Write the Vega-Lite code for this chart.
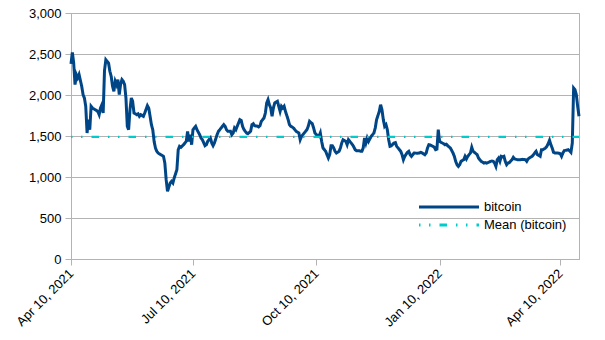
{
  "$schema": "https://vega.github.io/schema/vega-lite/v6.json",
  "width": 508,
  "height": 246,
  "autosize": "none",
  "padding": {"left": 71, "top": 13, "right": 26, "bottom": 81},
  "background": "white",
  "config": {
    "view": {"stroke": "#b3b3b3", "strokeWidth": 1},
    "font": "Liberation Sans"
  },
  "datasets": {
    "btc": [
      {"date":"2021-04-10","value":2380},{"date":"2021-04-11","value":2520},{"date":"2021-04-12","value":2390},{"date":"2021-04-13","value":2126},{"date":"2021-04-14","value":2248},{"date":"2021-04-15","value":2210},{"date":"2021-04-16","value":2250},{"date":"2021-04-18","value":2106},{"date":"2021-04-19","value":2004},{"date":"2021-04-20","value":1963},{"date":"2021-04-21","value":1862},{"date":"2021-04-22","value":1536},{"date":"2021-04-23","value":1700},{"date":"2021-04-24","value":1577},{"date":"2021-04-25","value":1862},{"date":"2021-04-26","value":1841},{"date":"2021-04-28","value":1821},{"date":"2021-04-30","value":1800},
      {"date":"2021-05-01","value":1760},{"date":"2021-05-02","value":1841},{"date":"2021-05-03","value":1880},{"date":"2021-05-04","value":1780},{"date":"2021-05-05","value":2300},{"date":"2021-05-06","value":2430},{"date":"2021-05-08","value":2390},{"date":"2021-05-09","value":2289},{"date":"2021-05-10","value":2228},{"date":"2021-05-11","value":2106},{"date":"2021-05-12","value":2045},{"date":"2021-05-13","value":2167},{"date":"2021-05-14","value":2126},{"date":"2021-05-15","value":2187},{"date":"2021-05-16","value":2004},{"date":"2021-05-17","value":2130},{"date":"2021-05-18","value":2187},{"date":"2021-05-19","value":2167},{"date":"2021-05-20","value":2126},{"date":"2021-05-21","value":1963},{"date":"2021-05-22","value":1618},{"date":"2021-05-23","value":1577},{"date":"2021-05-24","value":1821},{"date":"2021-05-25","value":1963},{"date":"2021-05-26","value":1923},{"date":"2021-05-27","value":1780},{"date":"2021-05-29","value":1760},{"date":"2021-05-30","value":1770},{"date":"2021-05-31","value":1740},
      {"date":"2021-06-01","value":1760},{"date":"2021-06-03","value":1740},{"date":"2021-06-04","value":1780},{"date":"2021-06-06","value":1870},{"date":"2021-06-07","value":1840},{"date":"2021-06-08","value":1740},{"date":"2021-06-09","value":1638},{"date":"2021-06-10","value":1577},{"date":"2021-06-11","value":1435},{"date":"2021-06-12","value":1354},{"date":"2021-06-13","value":1313},{"date":"2021-06-14","value":1293},{"date":"2021-06-16","value":1272},{"date":"2021-06-18","value":1252},{"date":"2021-06-19","value":1171},{"date":"2021-06-20","value":967},{"date":"2021-06-21","value":825},{"date":"2021-06-23","value":927},{"date":"2021-06-24","value":947},{"date":"2021-06-25","value":927},{"date":"2021-06-26","value":988},{"date":"2021-06-28","value":1089},{"date":"2021-06-29","value":1333},{"date":"2021-06-30","value":1374},
      {"date":"2021-07-01","value":1362},{"date":"2021-07-03","value":1394},{"date":"2021-07-04","value":1415},{"date":"2021-07-05","value":1435},{"date":"2021-07-06","value":1557},{"date":"2021-07-07","value":1435},{"date":"2021-07-08","value":1516},{"date":"2021-07-09","value":1394},{"date":"2021-07-10","value":1577},{"date":"2021-07-11","value":1598},{"date":"2021-07-12","value":1618},{"date":"2021-07-13","value":1577},{"date":"2021-07-15","value":1516},{"date":"2021-07-16","value":1476},{"date":"2021-07-17","value":1455},{"date":"2021-07-19","value":1382},{"date":"2021-07-20","value":1394},{"date":"2021-07-21","value":1435},{"date":"2021-07-23","value":1476},{"date":"2021-07-24","value":1415},{"date":"2021-07-25","value":1382},{"date":"2021-07-26","value":1415},{"date":"2021-07-28","value":1516},{"date":"2021-07-29","value":1557},{"date":"2021-07-30","value":1577},{"date":"2021-07-31","value":1598},
      {"date":"2021-08-02","value":1638},{"date":"2021-08-03","value":1618},{"date":"2021-08-04","value":1577},{"date":"2021-08-05","value":1557},{"date":"2021-08-07","value":1557},{"date":"2021-08-08","value":1516},{"date":"2021-08-09","value":1537},{"date":"2021-08-10","value":1598},{"date":"2021-08-11","value":1577},{"date":"2021-08-13","value":1659},{"date":"2021-08-14","value":1700},{"date":"2021-08-15","value":1690},{"date":"2021-08-16","value":1618},{"date":"2021-08-17","value":1580},{"date":"2021-08-18","value":1557},{"date":"2021-08-19","value":1537},{"date":"2021-08-20","value":1528},{"date":"2021-08-22","value":1557},{"date":"2021-08-23","value":1638},{"date":"2021-08-24","value":1650},{"date":"2021-08-25","value":1626},{"date":"2021-08-27","value":1620},{"date":"2021-08-28","value":1610},{"date":"2021-08-29","value":1626},{"date":"2021-08-30","value":1679},
      {"date":"2021-09-01","value":1720},{"date":"2021-09-02","value":1780},{"date":"2021-09-03","value":1903},{"date":"2021-09-04","value":1943},{"date":"2021-09-05","value":1882},{"date":"2021-09-06","value":1841},{"date":"2021-09-07","value":1740},{"date":"2021-09-08","value":1841},{"date":"2021-09-09","value":1903},{"date":"2021-09-11","value":1923},{"date":"2021-09-12","value":1862},{"date":"2021-09-13","value":1800},{"date":"2021-09-14","value":1862},{"date":"2021-09-15","value":1841},{"date":"2021-09-16","value":1862},{"date":"2021-09-17","value":1800},{"date":"2021-09-19","value":1700},{"date":"2021-09-20","value":1638},{"date":"2021-09-21","value":1618},{"date":"2021-09-22","value":1610},{"date":"2021-09-23","value":1598},{"date":"2021-09-24","value":1577},{"date":"2021-09-25","value":1557},{"date":"2021-09-27","value":1537},{"date":"2021-09-28","value":1455},{"date":"2021-09-29","value":1496},{"date":"2021-09-30","value":1516},
      {"date":"2021-10-02","value":1557},{"date":"2021-10-03","value":1577},{"date":"2021-10-04","value":1618},{"date":"2021-10-05","value":1679},{"date":"2021-10-07","value":1650},{"date":"2021-10-08","value":1598},{"date":"2021-10-09","value":1537},{"date":"2021-10-10","value":1516},{"date":"2021-10-12","value":1496},{"date":"2021-10-13","value":1537},{"date":"2021-10-14","value":1435},{"date":"2021-10-15","value":1354},{"date":"2021-10-17","value":1313},{"date":"2021-10-18","value":1272},{"date":"2021-10-19","value":1232},{"date":"2021-10-20","value":1272},{"date":"2021-10-21","value":1382},{"date":"2021-10-22","value":1382},{"date":"2021-10-23","value":1354},{"date":"2021-10-24","value":1313},{"date":"2021-10-25","value":1293},{"date":"2021-10-27","value":1313},{"date":"2021-10-28","value":1354},{"date":"2021-10-29","value":1415},{"date":"2021-10-30","value":1455},
      {"date":"2021-11-01","value":1435},{"date":"2021-11-02","value":1394},{"date":"2021-11-03","value":1455},{"date":"2021-11-04","value":1435},{"date":"2021-11-06","value":1394},{"date":"2021-11-07","value":1366},{"date":"2021-11-08","value":1333},{"date":"2021-11-09","value":1321},{"date":"2021-11-11","value":1321},{"date":"2021-11-12","value":1313},{"date":"2021-11-13","value":1313},{"date":"2021-11-14","value":1354},{"date":"2021-11-15","value":1476},{"date":"2021-11-16","value":1415},{"date":"2021-11-17","value":1476},{"date":"2021-11-18","value":1435},{"date":"2021-11-20","value":1496},{"date":"2021-11-21","value":1516},{"date":"2021-11-22","value":1537},{"date":"2021-11-23","value":1598},{"date":"2021-11-24","value":1700},{"date":"2021-11-25","value":1750},{"date":"2021-11-26","value":1800},{"date":"2021-11-27","value":1882},{"date":"2021-11-28","value":1821},{"date":"2021-11-29","value":1700},{"date":"2021-11-30","value":1618},
      {"date":"2021-12-01","value":1638},{"date":"2021-12-02","value":1577},{"date":"2021-12-03","value":1455},{"date":"2021-12-04","value":1374},{"date":"2021-12-05","value":1380},{"date":"2021-12-07","value":1415},{"date":"2021-12-08","value":1420},{"date":"2021-12-09","value":1374},{"date":"2021-12-10","value":1354},{"date":"2021-12-12","value":1313},{"date":"2021-12-13","value":1272},{"date":"2021-12-14","value":1211},{"date":"2021-12-15","value":1252},{"date":"2021-12-17","value":1301},{"date":"2021-12-18","value":1313},{"date":"2021-12-19","value":1272},{"date":"2021-12-20","value":1252},{"date":"2021-12-22","value":1293},{"date":"2021-12-24","value":1290},{"date":"2021-12-26","value":1293},{"date":"2021-12-27","value":1301},{"date":"2021-12-28","value":1293},{"date":"2021-12-30","value":1272},{"date":"2021-12-31","value":1293},
      {"date":"2022-01-01","value":1354},{"date":"2022-01-02","value":1394},{"date":"2022-01-03","value":1390},{"date":"2022-01-05","value":1374},{"date":"2022-01-06","value":1365},{"date":"2022-01-07","value":1333},{"date":"2022-01-08","value":1340},{"date":"2022-01-09","value":1577},{"date":"2022-01-10","value":1435},{"date":"2022-01-11","value":1423},{"date":"2022-01-13","value":1406},{"date":"2022-01-14","value":1394},{"date":"2022-01-15","value":1400},{"date":"2022-01-16","value":1382},{"date":"2022-01-18","value":1354},{"date":"2022-01-19","value":1325},{"date":"2022-01-20","value":1293},{"date":"2022-01-21","value":1252},{"date":"2022-01-22","value":1191},{"date":"2022-01-23","value":1150},{"date":"2022-01-24","value":1130},{"date":"2022-01-25","value":1150},{"date":"2022-01-26","value":1191},{"date":"2022-01-28","value":1211},{"date":"2022-01-29","value":1252},{"date":"2022-01-30","value":1220},{"date":"2022-01-31","value":1252},
      {"date":"2022-02-02","value":1293},{"date":"2022-02-03","value":1362},{"date":"2022-02-04","value":1313},{"date":"2022-02-05","value":1301},{"date":"2022-02-07","value":1272},{"date":"2022-02-08","value":1232},{"date":"2022-02-09","value":1211},{"date":"2022-02-10","value":1191},{"date":"2022-02-12","value":1170},{"date":"2022-02-13","value":1175},{"date":"2022-02-14","value":1170},{"date":"2022-02-15","value":1175},{"date":"2022-02-17","value":1191},{"date":"2022-02-18","value":1195},{"date":"2022-02-19","value":1191},{"date":"2022-02-20","value":1170},{"date":"2022-02-21","value":1130},{"date":"2022-02-22","value":1211},{"date":"2022-02-23","value":1232},{"date":"2022-02-24","value":1191},{"date":"2022-02-25","value":1252},{"date":"2022-02-26","value":1245},{"date":"2022-02-27","value":1252},{"date":"2022-02-28","value":1191},
      {"date":"2022-03-01","value":1150},{"date":"2022-03-02","value":1170},{"date":"2022-03-03","value":1175},{"date":"2022-03-05","value":1211},{"date":"2022-03-06","value":1240},{"date":"2022-03-07","value":1220},{"date":"2022-03-09","value":1211},{"date":"2022-03-11","value":1211},{"date":"2022-03-13","value":1215},{"date":"2022-03-15","value":1211},{"date":"2022-03-16","value":1191},{"date":"2022-03-17","value":1220},{"date":"2022-03-18","value":1232},{"date":"2022-03-20","value":1252},{"date":"2022-03-21","value":1272},{"date":"2022-03-22","value":1293},{"date":"2022-03-23","value":1313},{"date":"2022-03-24","value":1272},{"date":"2022-03-26","value":1252},{"date":"2022-03-27","value":1333},{"date":"2022-03-28","value":1333},{"date":"2022-03-30","value":1354},{"date":"2022-03-31","value":1374},
      {"date":"2022-04-01","value":1406},{"date":"2022-04-02","value":1447},{"date":"2022-04-03","value":1394},{"date":"2022-04-04","value":1354},{"date":"2022-04-05","value":1301},{"date":"2022-04-06","value":1293},{"date":"2022-04-08","value":1293},{"date":"2022-04-09","value":1290},{"date":"2022-04-10","value":1285},{"date":"2022-04-11","value":1252},{"date":"2022-04-12","value":1293},{"date":"2022-04-13","value":1321},{"date":"2022-04-14","value":1325},{"date":"2022-04-16","value":1333},{"date":"2022-04-17","value":1320},{"date":"2022-04-18","value":1301},{"date":"2022-04-19","value":1415},{"date":"2022-04-20","value":2085},{"date":"2022-04-21","value":2065},{"date":"2022-04-22","value":2004},{"date":"2022-04-23","value":1862},{"date":"2022-04-24","value":1740}
    ],
    "mean": [
      {"date":"2021-04-10","value":1490},
      {"date":"2022-04-24","value":1490}
    ]
  },
  "layer": [
    {
      "data": {"name": "btc"},
      "mark": {"type": "line", "strokeWidth": 3, "interpolate": "linear"},
      "encoding": {
        "x": {
          "field": "date", "type": "temporal",
          "scale": {"type": "utc", "nice": false},
          "axis": {
            "title": null,
            "values": [
              {"year": 2021, "month": 4, "date": 10, "utc": true},
              {"year": 2021, "month": 7, "date": 10, "utc": true},
              {"year": 2021, "month": 10, "date": 10, "utc": true},
              {"year": 2022, "month": 1, "date": 10, "utc": true},
              {"year": 2022, "month": 4, "date": 10, "utc": true}
            ],
            "format": "%b %d, %Y",
            "labelAngle": -45,
            "labelAlign": "right",
            "labelBaseline": "middle",
            "labelPadding": 6,
            "labelFont": "Liberation Sans",
            "labelFontSize": 13,
            "labelColor": "#000000",
            "labelOverlap": false,
            "labelFlush": false,
            "grid": false,
            "tickSize": 6,
            "tickColor": "#b3b3b3",
            "domainColor": "#b3b3b3"
          }
        },
        "y": {
          "field": "value", "type": "quantitative",
          "scale": {"domain": [0, 3000], "nice": false, "zero": true},
          "axis": {
            "title": null,
            "values": [0, 500, 1000, 1500, 2000, 2500, 3000],
            "format": ",.0f",
            "labelFont": "Liberation Sans",
            "labelFontSize": 13,
            "labelColor": "#000000",
            "labelPadding": 4,
            "grid": true,
            "gridColor": "#b3b3b3",
            "tickSize": 6,
            "tickColor": "#b3b3b3",
            "domainColor": "#b3b3b3"
          }
        },
        "color": {
          "datum": "bitcoin",
          "scale": {"domain": ["bitcoin", "Mean (bitcoin)"], "range": ["#004586", "#00cccc"]},
          "legend": {
            "title": null,
            "orient": "none",
            "legendX": 368,
            "legendY": 184,
            "padding": 0,
            "rowPadding": 1,
            "symbolType": "M-3.53,0H3.53",
            "symbolSize": 289,
            "symbolStrokeWidth": 3,
            "labelOffset": 25,
            "labelFont": "Liberation Sans",
            "labelFontSize": 13,
            "labelColor": "#000000"
          }
        },
        "strokeDash": {
          "datum": "bitcoin",
          "scale": {"domain": ["bitcoin", "Mean (bitcoin)"], "range": [[1, 0], [1.5, 8.5, 1.5, 9, 7.5, 9]]}
        }
      }
    },
    {
      "data": {"name": "mean"},
      "mark": {"type": "line", "strokeWidth": 2.3},
      "encoding": {
        "x": {"field": "date", "type": "temporal"},
        "y": {"field": "value", "type": "quantitative"},
        "color": {"datum": "Mean (bitcoin)"},
        "strokeDash": {"datum": "Mean (bitcoin)"}
      }
    }
  ]
}
